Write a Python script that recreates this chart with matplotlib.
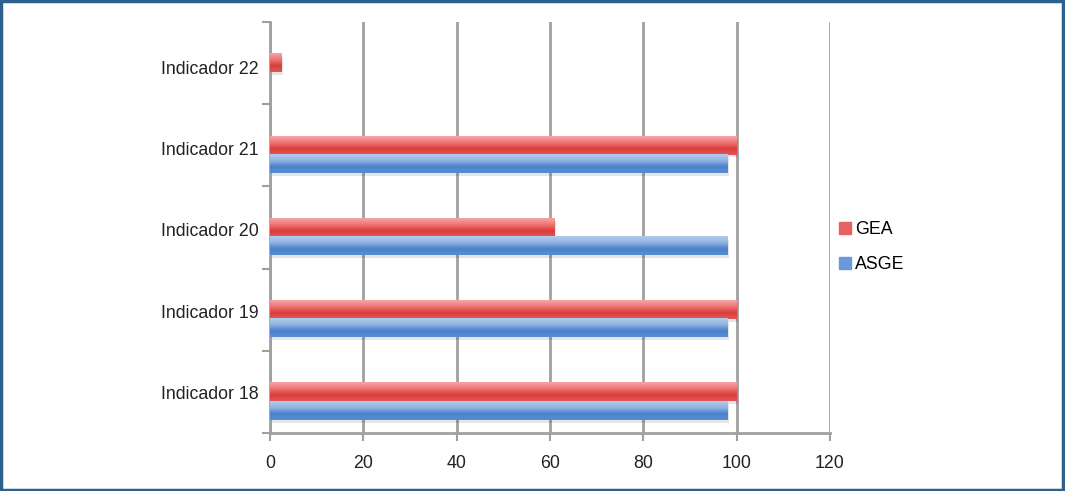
import matplotlib
matplotlib.use("Agg")
import matplotlib.pyplot as plt
import numpy as np
from matplotlib.colors import LinearSegmentedColormap
from matplotlib.patches import Rectangle

categories = ["Indicador 18", "Indicador 19", "Indicador 20", "Indicador 21", "Indicador 22"]
gea = [100, 100, 61, 100, 2.4]
asge = [98, 98, 98, 98, 0]
series_names = ["GEA", "ASGE"]
xticks = [0, 20, 40, 60, 80, 100, 120]

plt.rcParams['font.family'] = ['Liberation Sans', 'DejaVu Sans']

fig = plt.figure(figsize=(10.65, 4.91), dpi=100)
ax = fig.add_axes([270/1065, 1-433/491, 560/1065, 411/491])

grid_col = "#a0a0a0"
pos = np.arange(len(categories))
h = 0.225
red_cmap = LinearSegmentedColormap.from_list("r", ["#f7a6a6", "#ef7676", "#dc3c3c", "#e05656"])
blue_cmap = LinearSegmentedColormap.from_list("b", ["#b2cbec", "#92b4e2", "#4a82cd", "#5a8dd2"])

b1 = ax.barh(pos, gea, height=h, color="#e45454", zorder=3)
b2 = ax.barh(pos - h, asge, height=h, color="#5f90d4", zorder=3)

grad = np.linspace(0, 1, 64).reshape(-1, 1)
for bars, cmap in ((b1, red_cmap), (b2, blue_cmap)):
    for p in bars:
        x0, y0, w, hh = p.get_x(), p.get_y(), p.get_width(), p.get_height()
        if w <= 0:
            continue
        ax.add_patch(Rectangle((x0 + 0.3, y0 - 0.035), w, hh, color="#000000", alpha=0.10, zorder=2, lw=0))
        ax.imshow(grad, aspect="auto", cmap=cmap, extent=(x0, x0 + w, y0, y0 + hh),
                  origin="upper", zorder=4, interpolation="bicubic")

ax.set_xlim(0, 120)
ax.set_ylim(-0.5, len(categories) - 0.5)
ax.set_xticks(xticks)
ax.set_xticklabels([str(t) for t in xticks])
ax.grid(axis="x", color=grid_col, lw=2, zorder=1)
ax.set_axisbelow(True)

ax.set_yticks(np.arange(len(categories) + 1) - 0.5)
ax.set_yticklabels([])
ax.set_yticks(pos * 0.99 - 0.01, minor=True)
ax.set_yticklabels(categories, minor=True)
ax.tick_params(axis="y", which="major", length=6, width=1.5, color=grid_col, direction="out")
ax.tick_params(axis="y", which="minor", length=0, pad=8, labelsize=12.8, labelcolor="#222222")
ax.tick_params(axis="x", length=6, width=1.5, color=grid_col, pad=10, labelsize=12.8, labelcolor="#222222")

for s in ("top", "right"):
    ax.spines[s].set_visible(False)
ax.spines["left"].set_color(grid_col)
ax.spines["left"].set_linewidth(2)
ax.spines["bottom"].set_color(grid_col)
ax.spines["bottom"].set_linewidth(2)

handles = [Rectangle((0, 0), 1, 1, color="#e66262"), Rectangle((0, 0), 1, 1, color="#6a98d8")]
fig.legend(handles, series_names, loc="upper left", bbox_to_anchor=(832/1065, 1-214/491),
           frameon=False, fontsize=12.8, handlelength=0.65, handleheight=0.65,
           handletextpad=0.25, labelspacing=1.0, borderaxespad=0)

fig.add_artist(Rectangle((0.001, 0.002), 0.997, 0.996, transform=fig.transFigure,
                         fill=False, edgecolor="#2f5f8c", lw=2.5))

fig.savefig("out.png", dpi=100)
